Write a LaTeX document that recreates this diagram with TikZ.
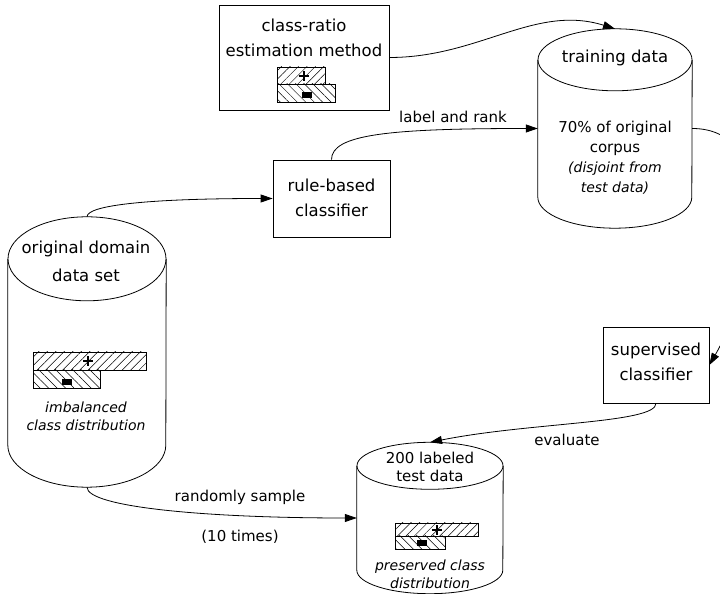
\documentclass[tikz,border=0pt]{standalone}
\usepackage{fontspec}
\setmainfont{DejaVu Sans}
\usetikzlibrary{arrows.meta,patterns.meta}

\tikzset{
  box/.style={draw, rectangle, line width=0.8pt, inner sep=0pt},
  store/.style={rectangle, inner sep=0pt},
  title/.style={font=\fontsize{16.5}{25}\selectfont, align=center},
  note/.style={font=\fontsize{14}{18}\selectfont\itshape, align=center},
  edgelbl/.style={font=\fontsize{15}{17}\selectfont},
  link/.style={-{Triangle[length=12pt,width=8pt]}, line width=0.8pt},
  plusbar/.style={draw, line width=0.6pt, pattern={Lines[angle=45,distance=6pt,line width=0.5pt]}},
  minusbar/.style={draw, line width=0.6pt, pattern={Lines[angle=-45,distance=6pt,line width=0.5pt]}},
}

\begin{document}
\begin{tikzpicture}[x=1pt,y=1pt]
  \useasboundingbox (0,0) rectangle (720,594);

  % boxes
  \node[box, minimum width=170, minimum height=105] (ratio) at (304,536.5) {};
  \node[box, minimum width=117, minimum height=77] (rule) at (331.5,395.5) {};
  \node[box, minimum width=106, minimum height=76] (sup) at (656,229) {};

  % data stores (body between the two ellipse centres)
  \node[store, minimum width=158, minimum height=186] (orig) at (87,242) {};
  \node[store, minimum width=154, minimum height=137] (train) at (615,465.5) {};
  \node[store, minimum width=146, minimum height=104] (test) at (430,76) {};
  \foreach \n/\rx/\ry in {orig/79/42, train/77/31, test/73/23.5} {
    \draw[line width=0.8pt] (\n.north) ellipse[x radius=\rx, y radius=\ry];
    \draw[line width=0.8pt] (\n.north west) -- (\n.south west)
      arc[start angle=180, end angle=360, x radius=\rx, y radius=\ry] -- (\n.north east);
  }

  % texts
  \node[title] (ratiotxt) at (304,556.5) {class-ratio\\estimation method};
  \node[title] (ruletxt) at (331.5,396.5) {rule-based\\classifier};
  \node[title] (suptxt) at (656,232.5) {supervised\\classifier};
  \node[title, font=\fontsize{16.5}{28}\selectfont] (origtxt) at (86,333) {original domain\\data set};
  \node[note] (orignote) at (86,178) {imbalanced\\class distribution};
  \node[title] (traintxt) at (615,536) {training data};
  \node[align=center, font=\fontsize{15}{20}\selectfont] (trainbody) at (615,436)
    {70\% of original\\corpus\\{\fontsize{14}{20}\selectfont\itshape (disjoint from}\\{\fontsize{14}{20}\selectfont\itshape test data)}};
  \node[title, font=\fontsize{15}{18}\selectfont] (testtxt) at (430,127) {200 labeled\\test data};
  \node[note] (testnote) at (430,20) {preserved class\\distribution};

  % class bars
  \draw[plusbar] (277,510) rectangle (325,527);
  \draw[minusbar] (277,492) rectangle (335,510);
  \draw[plusbar] (33,224) rectangle (146,242);
  \draw[minusbar] (33,206) rectangle (100,224);
  \draw[plusbar] (395,58) rectangle (478,71);
  \draw[minusbar] (395,45) rectangle (445,58);
  \foreach \px/\py in {304/518, 88/233, 437/64}
    \draw[line width=2pt] (\px-5,\py) -- (\px+5,\py) (\px,\py-5) -- (\px,\py+5);
  \foreach \mx/\my in {307/499, 67/212, 422/51}
    \fill (\mx-5,\my-3) rectangle (\mx+5,\my+3);

  % connectors
  \draw[link] (ratio.east) .. controls +(90,0) and +(-80,25) .. ([yshift=31pt]train.north);
  \draw[link] (rule.north) .. controls +(0,25) and +(-150,0) .. (train.west);
  \draw[link] ([yshift=42pt]orig.north) .. controls +(0,12) and +(-120,0) .. (rule.west);
  \draw[link] (train.east) to[out=0,in=60] (sup.east);
  \draw[link] (sup.south) .. controls +(0,-20) and +(100,20) .. ([yshift=23.5pt]test.north);
  \draw[link] ([yshift=-42pt]orig.south) .. controls +(0,-20) and +(-150,0) .. (test.west);

  \node[edgelbl] (lblrank) at (453,477) {label and rank};
  \node[edgelbl] (lbleval) at (567,154) {evaluate};
  \node[edgelbl] (lblsample) at (240,97) {randomly sample};
  \node[edgelbl] (lbltimes) at (240,57) {(10 times)};
\end{tikzpicture}
\end{document}
